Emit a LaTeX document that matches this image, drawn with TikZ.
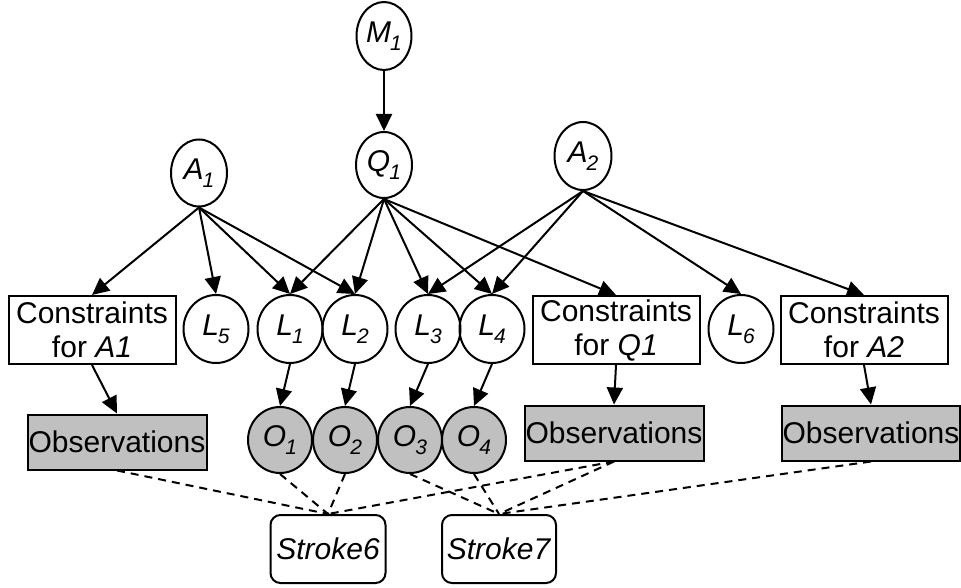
\documentclass[tikz,border=0pt]{standalone}
\usepackage{fontspec}
\setmainfont{Liberation Sans}
\usetikzlibrary{shapes.geometric,arrows.meta}
\newcommand\vlab[2]{\textit{#1}\kern-1pt\raisebox{-8pt}{\fontsize{21pt}{21pt}\selectfont\textit{#2}}}
\begin{document}
\begin{tikzpicture}[x=1pt,y=-1pt,
  every node/.style={font=\fontsize{30pt}{34pt}\selectfont, inner sep=0pt},
  lw/.style={line width=2pt},
  var/.style={lw, draw, ellipse, minimum width=56pt, minimum height=67pt},
  lvar/.style={lw, draw, ellipse, minimum width=65pt, minimum height=68pt},
  ovar/.style={lw, draw, ellipse, fill=obsgray, minimum width=64pt, minimum height=66pt},
  cbox/.style={lw, draw, rectangle, align=center, minimum width=167pt, minimum height=68pt},
  obox/.style={lw, draw, rectangle, fill=obsgray, minimum width=179pt, minimum height=55pt},
  sbox/.style={lw, draw, rectangle, rounded corners=10pt, minimum width=115pt, minimum height=68pt},
  arr/.style={lw, -{Triangle[length=17pt,width=16pt]}},
  dsh/.style={lw, dash pattern=on 8pt off 6pt}
]
\definecolor{obsgray}{HTML}{C0C0C0}
\useasboundingbox (0,0) rectangle (961,588);

% top level
\node[var, minimum width=55pt, minimum height=68pt] (M1) at (384,36) {\vlab{M}{1}};
\node[var, minimum height=66pt] (Q1) at (384,165) {\vlab{Q}{1}};
\node[var] (A1) at (199,173) {\vlab{A}{1}};
\node[var, minimum width=57pt, minimum height=68pt] (A2) at (583,156) {\vlab{A}{2}};

% L row
\node[lvar] (L5) at (216,329) {\vlab{L}{5}};
\node[lvar] (L1) at (290,329) {\vlab{L}{1}};
\node[lvar] (L2) at (355,329) {\vlab{L}{2}};
\node[lvar] (L3) at (428,329) {\vlab{L}{3}};
\node[lvar] (L4) at (492,329) {\vlab{L}{4}};
\node[lvar] (L6) at (741,329) {\vlab{L}{6}};

\node[cbox] (CA1) at (92,330) {Constraints\\for \textit{A1}};
\node[cbox] (CQ1) at (616,330) {Constraints\\for \textit{Q1}};
\node[cbox] (CA2) at (864,330) {Constraints\\for \textit{A2}};

% observation row
\node[obox] (OA1) at (117,442) {Observations};
\node[obox] (OQ1) at (614,433) {Observations};
\node[obox, minimum width=178pt] (OA2) at (871,433) {Observations};

\node[ovar] (O1) at (280,440) {\vlab{O}{1}};
\node[ovar] (O2) at (345,440) {\vlab{O}{2}};
\node[ovar] (O3) at (410,440) {\vlab{O}{3}};
\node[ovar] (O4) at (474,440) {\vlab{O}{4}};

% strokes
\node[sbox] (S6) at (328,549) {\textit{Stroke6}};
\node[sbox, minimum width=114pt] (S7) at (499,549) {\textit{Stroke7}};

% arrows
\draw[arr] (M1.south) -- (Q1.north);
\draw[arr] (A1.south) -- (CA1.north);
\draw[arr] (A1.south) -- (L5.north);
\draw[arr] (A1.south) -- (L1.north);
\draw[arr] (A1.south) -- (L2.north);
\draw[arr] (Q1.south) -- (L1.north);
\draw[arr] (Q1.south) -- (L2.north);
\draw[arr] (Q1.south) -- (L3.north);
\draw[arr] (Q1.south) -- (L4.north);
\draw[arr] (Q1.south) -- (CQ1.north);
\draw[arr] (A2.south) -- (L3.north);
\draw[arr] (A2.south) -- (L4.north);
\draw[arr] (A2.south) -- (L6.north);
\draw[arr] (A2.south) -- (CA2.north);

\draw[arr] (L1.south) -- (O1.north);
\draw[arr] (L2.south) -- (O2.north);
\draw[arr] (L3.south) -- (O3.north);
\draw[arr] (L4.south) -- (O4.north);
\draw[arr] (CA1.south) -- (OA1.north);
\draw[arr] (CQ1.south) -- (OQ1.north);
\draw[arr] (CA2.south) -- (OA2.north);

% dashed links
\draw[dsh] (OA1.south) -- (S6.north);
\draw[dsh] (O1.south) -- (S6.north);
\draw[dsh] (O2.south) -- (S6.north);
\draw[dsh] (OQ1.south) -- (S6.north);
\draw[dsh] (O3.south) -- (S7.north);
\draw[dsh] (O4.south) -- (S7.north);
\draw[dsh] (OQ1.south) -- (S7.north);
\draw[dsh] (OA2.south) -- (S7.north);
\end{tikzpicture}
\end{document}
